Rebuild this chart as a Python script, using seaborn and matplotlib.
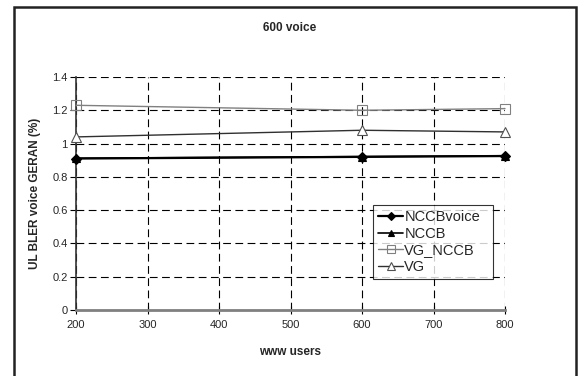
import numpy as np
import pandas as pd
import matplotlib
matplotlib.use('Agg')
import matplotlib.pyplot as plt
import seaborn as sns
from matplotlib.patches import Rectangle

# 数据
users = [200, 600, 800]
nccb_voice = [0.91, 0.92, 0.925]
nccb = [0.912, 0.922, 0.927]
vg_nccb = [1.23, 1.20, 1.21]
vg = [1.04, 1.08, 1.07]
series_names = ['NCCBvoice', 'NCCB', 'VG_NCCB', 'VG']
y_ticks = [0, 0.2, 0.4, 0.6, 0.8, 1, 1.2, 1.4]
y_tick_labels = ['0', '0.2', '0.4', '0.6', '0.8', '1', '1.2', '1.4']
x_ticks = [200, 300, 400, 500, 600, 700, 800]

df = pd.DataFrame({'users': users * 4,
                   'value': nccb_voice + nccb + vg_nccb + vg,
                   'series': np.repeat(series_names, len(users))})

sns.set_style('white')
plt.rcParams['font.family'] = ['Liberation Sans', 'DejaVu Sans']

fig = plt.figure(figsize=(5.78, 3.76), dpi=100)
ax = fig.add_axes([76 / 578, 1 - 310 / 376, (505 - 76) / 578, (310 - 77) / 376])

styles = {
    'NCCBvoice': dict(color='black', marker='D', markersize=5, mfc='black', lw=1.6),
    'NCCB': dict(color='black', marker='^', markersize=6, mfc='black', lw=1.2),
    'VG_NCCB': dict(color='#808080', marker='s', markersize=7, mfc='none', mec='#808080', lw=1.0),
    'VG': dict(color='#303030', marker='^', markersize=7, mfc='white', mec='#505050', lw=1.0),
}
for name in series_names:
    sub = df[df['series'] == name]
    st = styles[name]
    sns.lineplot(data=sub, x='users', y='value', ax=ax, label=name,
                 color=st['color'], lw=st['lw'], marker=st['marker'],
                 markersize=st['markersize'], markerfacecolor=st['mfc'],
                 markeredgecolor=st.get('mec', st['color']), markeredgewidth=0.8,
                 clip_on=False, zorder=5)

ax.set_xlim(200, 800)
ax.set_ylim(0, 1.4)
ax.set_xticks(x_ticks)
ax.set_yticks(y_ticks)
ax.set_yticklabels(y_tick_labels)
ax.grid(True, color='black', linestyle=(0, (7, 4)), lw=0.8)
ax.set_axisbelow(True)
for s in ['top', 'right']:
    ax.spines[s].set_visible(False)
ax.spines['left'].set_color('#333333')
ax.spines['left'].set_linewidth(1.2)
ax.spines['bottom'].set_color('#808080')
ax.spines['bottom'].set_linewidth(2)
ax.tick_params(axis='x', direction='inout', length=6, width=0.8, labelsize=8, pad=4, color='black')
ax.tick_params(axis='y', direction='out', length=4, width=0.8, labelsize=8, pad=2, color='black')
ax.tick_params(left=True, bottom=True)

ax.set_xlabel('www users', fontsize=8.5, fontweight='bold', labelpad=12)
ax.set_ylabel('UL BLER voice GERAN (%)', fontsize=8.5, fontweight='bold', labelpad=8)
fig.text(290 / 578, 1 - 28 / 376, '600 voice', ha='center', va='center', fontsize=8.5, fontweight='bold')

leg = ax.legend(loc='lower left', bbox_to_anchor=((373 - 76) / 429, (310 - 279) / 233, (493 - 373) / 429, (279 - 206) / 233),
                mode='expand', fontsize=10.5, frameon=True, fancybox=False, handlelength=1.7,
                handletextpad=0.1, borderpad=0.35, labelspacing=0.18, borderaxespad=0,
                markerscale=0.8)
leg.get_frame().set_edgecolor('black')
leg.get_frame().set_linewidth(0.8)

# 外框
fig.patches.append(Rectangle((14 / 578, -0.01), (576 - 14) / 578, 1 - 7 / 376 + 0.01,
                             transform=fig.transFigure, fill=False, edgecolor='#222222', lw=1.8))

fig.savefig('out.png', dpi=100)
